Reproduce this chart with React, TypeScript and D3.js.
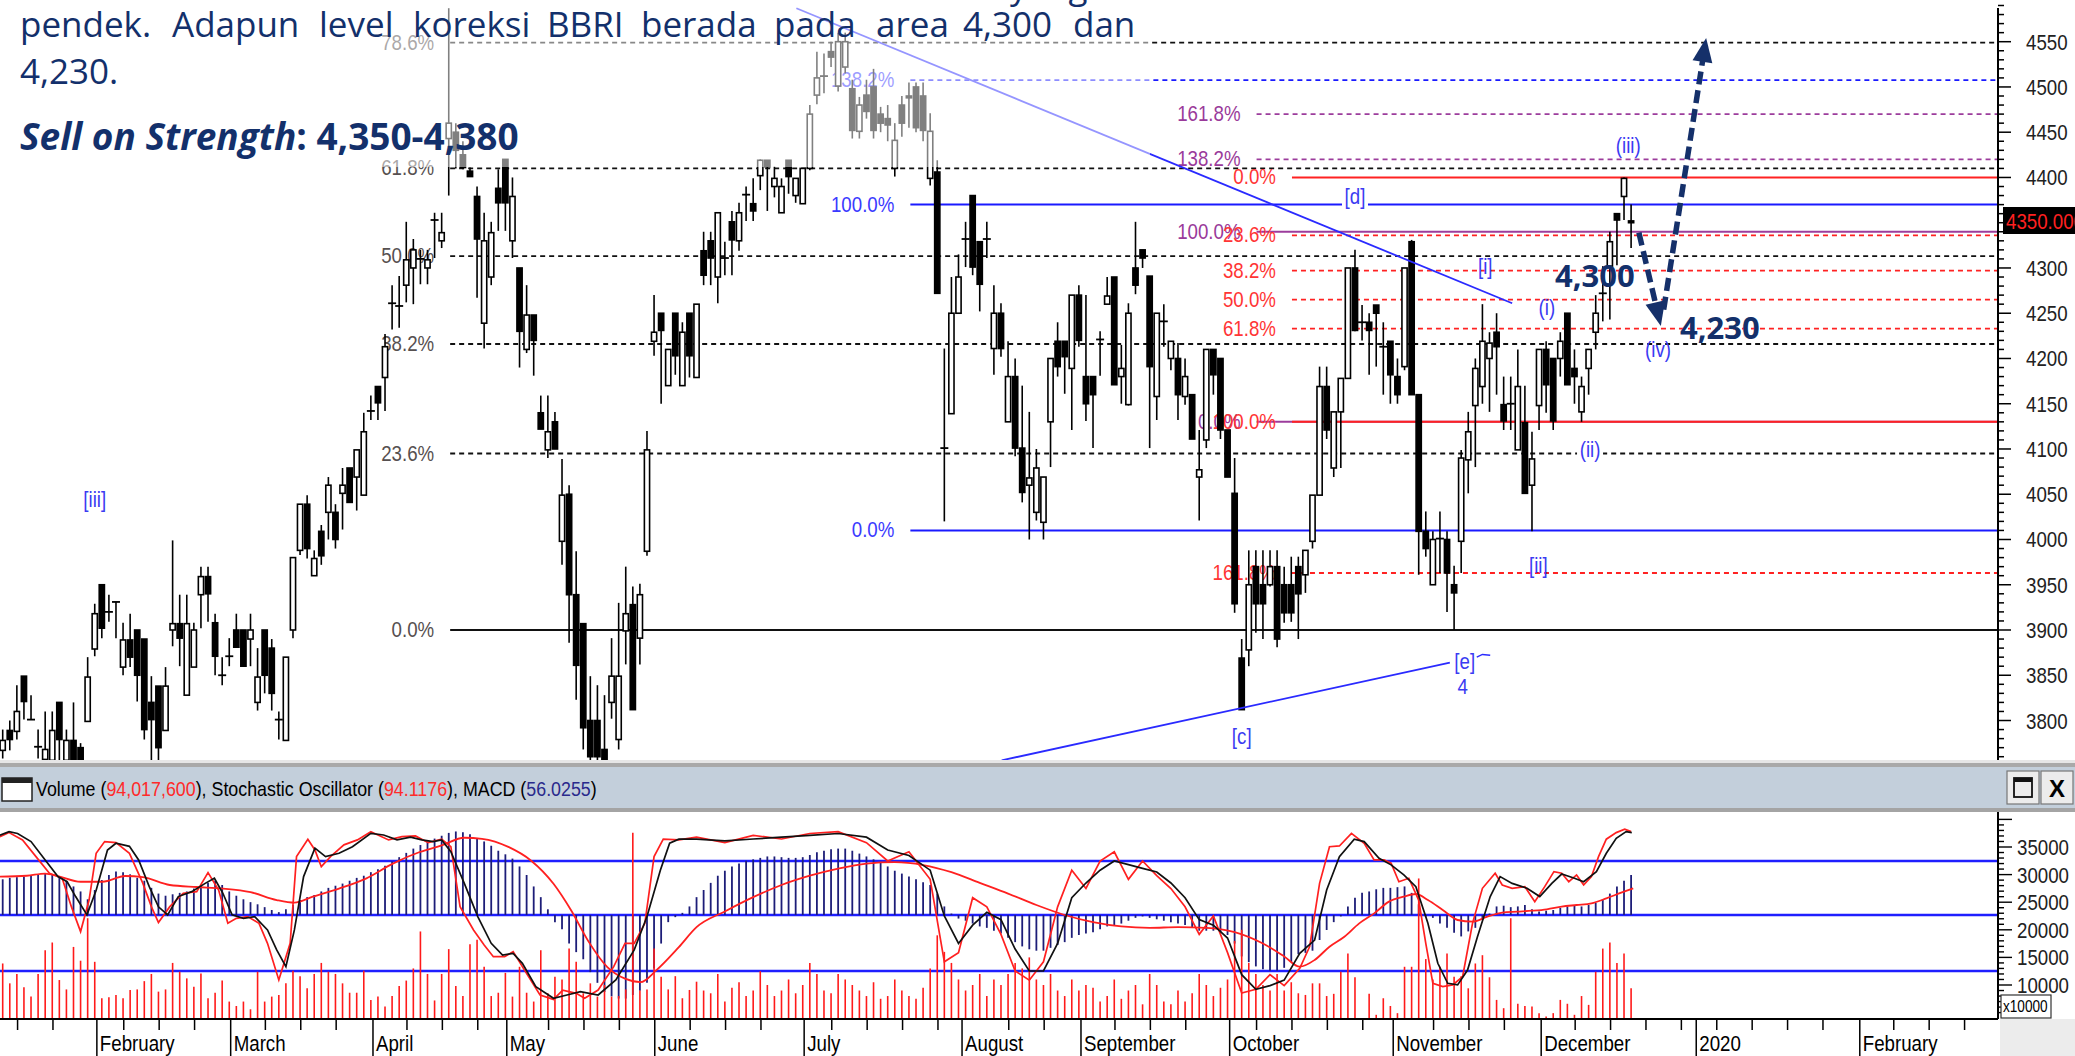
import React, { useEffect } from 'react';
import * as d3 from 'd3';

// ---------- DATA ----------
// daily candles [open, high, low, close], Jan 2019 .. Dec 2019
const ohlc: [number, number, number, number][] = [
  [3767,3790,3758,3778],[3789,3800,3767,3779],[3788,3839,3779,3810],[3849,3849,3801,3821],[3801,3828,3801,3801],
  [3771,3790,3758,3771],[3757,3810,3752,3768],[3756,3810,3750,3789],[3820,3820,3750,3779],[3756,3790,3750,3778],
  [3778,3820,3750,3756],[3770,3775,3740,3750],[3799,3870,3799,3848],[3879,3929,3871,3918],[3950,3950,3891,3902],
  [3920,3939,3909,3920],[3931,3931,3891,3931],[3859,3908,3850,3889],[3889,3918,3859,3870],[3900,3900,3821,3850],
  [3890,3890,3779,3790],[3820,3849,3750,3801],[3838,3838,3750,3770],[3789,3859,3789,3838],[3900,3999,3882,3907],
  [3907,3939,3860,3891],[3828,3939,3828,3907],[3859,3908,3859,3900],[3939,3970,3902,3959],[3959,3970,3909,3940],
  [3908,3918,3850,3871],[3850,3870,3839,3850],[3871,3891,3860,3871],[3900,3918,3881,3881],[3900,3900,3860,3860],
  [3890,3918,3860,3900],[3820,3880,3811,3848],[3900,3900,3830,3850],[3880,3890,3811,3830],[3801,3810,3779,3801],
  [3778,3870,3778,3870],[3900,3980,3891,3980],[3988,4039,3983,4039],[4039,4049,3979,3990],[3960,3988,3960,3979],
  [4009,4016,3972,3982],[4030,4069,4000,4060],[4030,4039,3990,4000],[4051,4079,4011,4060],[4079,4079,4041,4041],
  [4069,4099,4032,4099],[4049,4140,4049,4119],[4142,4159,4132,4142],[4169,4169,4132,4151],[4179,4227,4142,4213],
  [4261,4281,4232,4261],[4258,4291,4234,4258],[4281,4351,4262,4309],[4300,4332,4260,4320],[4310,4320,4282,4310],
  [4300,4320,4282,4309],[4353,4361,4311,4353],[4330,4361,4322,4339],[4443,4587,4380,4460],[4450,4460,4410,4430],
  [4425,4440,4409,4411],[4407,4411,4401,4401],[4379,4390,4267,4332],[4239,4361,4211,4330],[4290,4351,4281,4339],
  [4388,4409,4341,4372],[4420,4420,4341,4372],[4330,4400,4311,4379],[4300,4300,4190,4230],[4210,4281,4206,4248],
  [4248,4248,4181,4220],[4140,4159,4122,4122],[4099,4159,4090,4119],[4130,4141,4100,4100],[3998,4089,3972,4049],
  [4050,4060,3886,3939],[3939,3987,3823,3861],[3907,3907,3768,3792],[3800,3849,3745,3760],[3800,3839,3745,3760],
  [3768,3828,3745,3756],[3820,3891,3802,3849],[3779,3930,3768,3849],[3899,3970,3862,3918],[3928,3948,3812,3812],
  [3891,3951,3862,3939],[3987,4120,3982,4099],[4219,4270,4203,4229],[4250,4250,4150,4231],[4170,4210,4170,4210],
  [4250,4250,4182,4203],[4170,4240,4170,4229],[4250,4250,4179,4203],[4179,4260,4179,4260],[4319,4340,4281,4292],
  [4330,4340,4281,4311],[4290,4361,4261,4361],[4311,4329,4292,4311],[4351,4363,4292,4331],[4330,4372,4319,4361],
  [4381,4390,4352,4381],[4371,4399,4352,4363],[4402,4420,4386,4419],[4419,4419,4363,4412],[4390,4412,4378,4399],
  [4361,4399,4361,4390],[4419,4419,4382,4401],[4380,4399,4372,4399],[4371,4410,4371,4410],[4410,4480,4408,4470],
  [4491,4539,4481,4510],[4512,4537,4493,4512],[4539,4550,4522,4533],[4501,4560,4495,4550],[4522,4560,4515,4550],
  [4498,4508,4443,4452],[4451,4489,4443,4480],[4491,4508,4465,4473],[4500,4520,4443,4452],[4470,4478,4450,4460],
  [4465,4480,4440,4458],[4410,4460,4401,4441],[4480,4490,4445,4460],[4490,4505,4455,4488],[4500,4505,4450,4455],
  [4490,4505,4440,4452],[4399,4471,4391,4451],[4406,4419,4272,4272],[4101,4211,4020,4101],[4139,4290,4139,4250],
  [4250,4315,4250,4290],[4332,4351,4301,4332],[4380,4380,4292,4301],[4329,4329,4252,4282],[4332,4351,4311,4332],
  [4211,4281,4182,4250],[4250,4261,4202,4211],[4130,4219,4130,4180],[4180,4200,4092,4101],[4101,4170,4041,4052],
  [4060,4141,4000,4068],[4030,4100,4021,4079],[4019,4069,4000,4069],[4130,4200,4080,4200],[4219,4240,4180,4191],
  [4219,4219,4161,4202],[4189,4270,4121,4270],[4270,4281,4213,4220],[4180,4270,4131,4150],[4180,4180,4101,4160],
  [4221,4230,4181,4221],[4260,4290,4260,4269],[4290,4290,4171,4171],[4180,4215,4150,4189],[4149,4261,4148,4250],
  [4300,4351,4271,4281],[4320,4320,4300,4311],[4291,4291,4101,4191],[4158,4250,4132,4250],[4241,4260,4213,4241],
  [4200,4219,4187,4219],[4200,4217,4132,4160],[4158,4200,4149,4180],[4160,4160,4111,4111],[4069,4121,4021,4077],
  [4110,4210,4101,4210],[4210,4210,4160,4182],[4200,4200,4111,4121],[4121,4121,4069,4069],[4051,4090,3919,3929],
  [3869,3890,3812,3812],[3878,3988,3860,3950],[3970,3988,3897,3929],[3950,3988,3890,3929],[3950,3988,3948,3970],
  [3970,3988,3881,3890],[3950,3970,3908,3919],[3950,3981,3909,3919],[3970,3981,3890,3940],[3961,3988,3941,3988],
  [3998,4049,3990,4049],[4049,4191,4049,4169],[4169,4191,4111,4121],[4079,4141,4069,4141],[4141,4178,4079,4178],
  [4178,4300,4178,4300],[4300,4320,4230,4231],[4240,4259,4220,4240],[4240,4250,4182,4231],[4259,4259,4191,4250],
  [4213,4240,4160,4213],[4219,4219,4150,4182],[4180,4200,4150,4160],[4191,4300,4187,4300],[4329,4331,4160,4160],
  [4160,4160,3961,4009],[4009,4031,3981,3990],[3950,4009,3950,4000],[4001,4031,3963,4001],[4000,4009,3920,3963],
  [3950,3971,3900,3941],[3998,4099,3963,4090],[4088,4141,4051,4119],[4148,4200,4080,4189],[4169,4260,4150,4219],
  [4200,4229,4141,4217],[4229,4250,4160,4213],[4149,4180,4121,4131],[4150,4180,4121,4150],[4099,4210,4099,4169],
  [4129,4170,4051,4051],[4060,4119,4009,4089],[4148,4210,4121,4210],[4210,4219,4140,4171],[4200,4200,4121,4131],
  [4200,4229,4180,4219],[4250,4250,4171,4171],[4189,4210,4150,4180],[4141,4180,4130,4169],[4189,4210,4160,4210],
  [4229,4270,4210,4250],[4272,4302,4241,4272],[4302,4340,4243,4329],[4360,4360,4303,4353],[4379,4400,4353,4399],
  [4352,4370,4322,4350],
];

// volume per bar, x10000
const volume: number[] = [
  13900,10300,12000,9600,7900,12000,16300,17700,10900,9200,
  16900,14400,22100,14200,7600,7800,8200,7600,9100,9200,
  10700,12000,8800,9200,14000,12400,11200,9700,12100,7600,
  8600,10800,7000,6200,7000,5600,12400,7000,7900,8200,
  10300,12600,11600,9400,12000,14000,12400,12000,10300,8600,
  8600,12600,7300,7900,6100,8000,9800,10800,13000,19700,
  12000,7200,12000,16500,9800,8000,17400,18200,13300,8000,
  8600,12200,7900,13300,8600,7000,16300,8500,11500,11000,
  16600,14200,8500,10300,7900,10000,7900,8000,9200,37600,
  9000,9200,16600,11500,9200,11600,7600,9100,10600,
  9000,8500,12000,7000,9500,10500,8000,9000,12500,10000,
  8000,9000,11000,8500,10000,14000,12000,9000,8500,12000,
  11000,10000,9000,8000,10500,7500,8000,11000,9000,8000,
  7500,9500,13000,19000,16000,14000,11000,9000,10000,12000,
  8000,11000,10000,12000,14000,13000,15000,11000,10000,12000,
  9000,8000,11000,9000,10000,9500,7000,8000,11000,7500,
  9000,10000,6500,12000,10000,7000,6500,9000,7000,8500,
  12000,10000,8000,9500,11000,18000,20000,14000,12000,10000,
  9000,12000,9000,10500,8500,
  8200,10300,10300,8000,8400,12400,15700,11400,4000,8400,
  4600,7600,6200,4900,13300,13300,29300,14700,11000,13300,
  15700,11500,11600,9400,13900,15400,11400,7300,5800,22100,
  6600,6200,6100,4900,4300,4900,7300,6600,4600,8000,
  6400,12400,16600,17700,14000,15700,9400,
];

// MACD drawn as histogram, per bar
const macdHist: number[] = [
  50,52,53,54,55,56,58,57,54,48, 40,33,22,35,49,56,61,60,57,52,
  48,38,30,27,29,31,33,37,41,45, 48,42,33,27,22,18,15,11,7,4,
  8,14,21,25,28,33,38,41,44,48, 52,55,60,64,69,75,81,87,93,98,
  103,107,111,115,117,116,113,108,103,97, 90,85,79,68,56,40,25,8,-10,-20,
  -40,-52,-62,-80,-95,-108,-114,-117,-117,-112, -106,-95,-75,-40,-10,-3,3,12,25,
  35,45,55,62,68,72,76,78,80,82, 82,81,80,80,81,84,88,90,92,93,
  93,90,86,82,78,73,68,62,58,54, 50,46,42,30,12,2,-5,-8,-12,-16,
  -18,-22,-26,-32,-38,-44,-48,-50,-50,-46, -42,-38,-32,-28,-26,-24,-20,-16,-14,-12,
  -8,-4,-2,-4,-6,-8,-10,-12,-14,-18, -22,-22,-22,-24,-28,-40,-58,-66,-72,-76,
  -78,-78,-74,-66,
  -55,-53,-50,-35,-21,-10,-2,12,24,31, 33,36,38,38,39,40,31,15,-2,-4,
  -12,-18,-25,-30,-23,-18,-7,2,12,13, 11,12,14,8,5,6,7,10,12,13,
  12,14,17,22,30,40,48,56,
];

// MACD signal line [bar, value]
const macdSignal: [number, number][] = [
  [-0.4,53.7],[3.4,55],[6,58],[7.8,54.6],[11,46.6],[14.1,46.6],[17.3,54.6],[19.8,53],[23.6,42],[27.4,39.2],
  [31.1,37],[35,32],[38.7,21],[41.2,17.3],[43.8,25.7],[47.5,37],[51.3,51],[55.1,72],[58.9,88.2],[62,97.5],
  [65.2,108.2],[67.7,106.7],[71.5,95],[74.6,76.4],[77.8,43.7],[80.3,6.3],[82.8,-38],[85.4,-73],[87.9,-89.2],[90.1,-94],
  [92.3,-77.6],[95.5,-45],[98,-17],[102,5],[106,25],[110,42],[114,55],[118,65],[122,72],[126,74],
  [130,70],[134,60],[138,45],[142,30],[146,14],[150,0],[154,-10],[158,-16],[162,-18],[166,-17],
  [170,-18],[174,-24],[178,-40],[181,-58],[183.2,-72.4],[185.3,-63],[187.4,-44.4],[189.5,-30.4],[191.6,-11.7],[193.7,2.3],
  [195.8,18.7],[197.9,25.7],[199.6,29.4],[201.3,21],[203.4,7],[205.5,-7],[207.6,-9.4],[209.7,-2.3],[211.8,3.3],[213.9,4.7],
  [216,6],[218.1,8],[220.2,11.7],[222.3,14],[224.4,16.3],[226.5,23.3],[228.6,31.3],[230.3,37.4],
];

// Stochastic %K (red) and %D (black) [bar, value]
const stochK: [number, number][] = [
  [-0.4,93.3],[0.9,95.5],[2.8,91.5],[4.7,82.4],[6.6,73.3],[8.4,70.6],[9.7,55.1],[11,41.5],[12.2,58.7],[13.2,84.2],
  [14.4,90.6],[16,90],[17.9,84.2],[19.8,67.8],[21,55.1],[22,46.4],[23.6,55.1],[25.5,62.4],[27.4,63.3],[29,73.7],
  [30.5,64.2],[31.8,46],[33,48.7],[34.6,49.7],[36.2,46],[37.4,35.1],[39,15.1],[40.6,35.1],[41.5,82.4],[43.1,91.9],
  [44.1,86],[45,76.9],[46.3,82.4],[48.2,88.8],[50.1,91.5],[52,96],[54.5,91.5],[56.4,93.3],[58.3,93.7],[60.1,90],
  [62,91.9],[63.3,87.8],[64.6,55.1],[66.5,42.4],[68,34.2],[69.3,27.8],[70.9,27.8],[72.1,30.6],[73.7,20.5],[75.9,6.9],
  [77.8,4.5],[79.1,9.6],[81,7.8],[82.2,5.1],[84.1,9.6],[86.3,22.4],[87.9,35.1],[89.2,35.1],[90.7,46],[92,82.4],
  [93.3,91.9],[95.5,91.5],[98,93],[102,90],[106,94],[110,92],[114,95],[118,96],[122,90],[125,80],
  [128,85],[131,70],[133,25],[135,30],[137,60],[139,55],[141,40],[143,20],[145,15],[147,25],
  [149,55],[151,75],[153,65],[155,80],[157,85],[159,70],[161,80],[163,72],[165,65],[167,55],
  [169,40],[171,50],[173,30],[175,8],[177,10],[179,18],[181,12],[183.2,21.5],[184.6,33.3],[186,67.8],
  [187.4,87.8],[188.8,88.2],[190.5,95.1],[192.3,89.7],[193.7,80.6],[195.1,80.6],[196.1,78.8],[197.2,68.7],[198.6,70.6],[200,58.7],
  [201,35.1],[202,13.3],[203.4,11.5],[204.8,12.4],[206.2,16.9],[207.6,46],[209,65.1],[210.8,73.3],[211.8,66.9],[213.2,65.1],
  [215,66],[216.4,57.8],[217.8,66],[219.1,74.2],[220.2,73.3],[221.2,68.7],[222.3,72.4],[223.3,66.9],[224.4,71.5],[225.4,82.4],
  [226.5,91.9],[227.9,95.5],[229.1,97.3],[230,96],
];
const stochD: [number, number][] = [
  [-0.4,94],[0.9,96],[2.1,95],[4,90.6],[6,80.6],[7.8,71.5],[9.1,68.7],[10.3,60.6],[11.9,50.6],[13.2,64],
  [14.8,86],[16,89.7],[17.9,88],[19.2,80.6],[20.7,66],[22,55],[23.3,50.6],[24.8,60.6],[26.7,63.3],[28.6,67.8],
  [29.9,70.6],[31.1,62.4],[32.4,50.6],[34,48.7],[35.6,49.7],[37.4,42.4],[38.7,31.5],[40,22.4],[41.2,42.4],[42.5,71.5],
  [44.1,87],[45.6,82.4],[47.5,84.2],[49.4,87.8],[52,95.1],[53.8,94.2],[55.7,91.5],[57.6,93],[59.2,91.5],[60.8,90.6],
  [62,91.5],[63.3,85.1],[65.2,67.8],[67.1,49.7],[69,35.1],[70.6,28.7],[72.1,29.6],[73.4,24.2],[75.3,11.4],[77.8,5.1],
  [79.7,6.9],[81.6,8.7],[84.1,6.9],[86.6,15.1],[89.2,31.5],[91,49.7],[92.9,75.1],[94.2,89.7],[95.5,91.9],[98,91.9],
  [102,91],[106,92],[110,93],[114,94],[118,95],[122,93],[125,86],[128,83],[131,75],[133,50],
  [135,35],[137,45],[139,52],[141,48],[143,32],[145,20],[147,20],[149,35],[151,60],[153,68],
  [155,75],[157,80],[159,78],[161,76],[163,74],[165,68],[167,60],[169,48],[171,45],[173,38],
  [175,18],[177,10],[179,12],[181,15],[183.2,29.6],[185.3,36.9],[187,64.2],[188.8,82.4],[190.9,91.9],[192.3,90.6],
  [194.4,81.5],[196.1,77.9],[197.9,72.4],[199.6,66],[201.3,46],[202.7,24.2],[204.1,13.3],[205.5,12.4],[206.9,20.5],[208.3,38.7],
  [210.1,60.6],[211.5,71.5],[213.2,67.8],[215.3,65.1],[217.1,60.6],[218.8,67.8],[220.2,72.9],[222,70.6],[223.3,68.7],[225.1,74.2],
  [226.5,84.2],[227.9,92.4],[229.3,96],[230.1,95.5],
];

// month boundaries (bar position) and labels
const monthLabels = ['February','March','April','May','June','July','August','September','October','November','December','2020','February'];
const monthStarts = [13.3,32.2,52.3,71.2,92.1,113.2,135.5,152.3,173.3,196.4,217.3,239.2,262.3];

// Fibonacci tools [label, price]
const fibGray: [string, number][] = [['0.0%',3900],['23.6%',4095],['38.2%',4216],['50.0%',4313],['61.8%',4410],['78.6%',4549]];
const fibBlue: [string, number][] = [['0.0%',4010],['100.0%',4370],['138.2%',4507.5]];
const fibRed: [string, number][] = [['0.0%',4400],['23.6%',4336],['38.2%',4297],['50.0%',4265],['61.8%',4233],['100.0%',4130],['161.8%',3963]];
const fibPurple: [string, number][] = [['0.0%',4130],['100.0%',4340],['138.2%',4420],['161.8%',4470]];

// trendlines [bar, price]
const trendUpper: [number, number][] = [[112.1,4587],[213.2,4261]];
const trendLower: [number, number][] = [[141.1,3756],[204.4,3864]];
const trendTick: [number, number][] = [[208.2,3870],[209.0,3873],[210.1,3872]];

// Elliott wave labels [text, bar, price]
const waveLabels: [string, number, number][] = [
  ['[iii]',13,4045],['[c]',175,3783],['[d]',191,4380],['[e]',206.5,3866],['4',206.2,3838],
  ['[i]',209.4,4302],['(i)',218.1,4257],['[ii]',216.9,3972],['(ii)',224.2,4100],['(iii)',229.6,4436],['(iv)',233.8,4210],
];

// forecast arrows [bar, price] start -> tip
const arrowDown: [number, number][] = [[231.1,4339],[234.2,4236]];
const arrowUp: [number, number][] = [[234.6,4254],[240.6,4554]];

const priceTicks = d3.range(3800, 4551, 50);
const volTicks = [10000, 15000, 20000, 25000, 30000, 35000];
const lastPrice = '4350.000';

const textLine1 = ['pendek.','Adapun','level','koreksi','BBRI','berada','pada','area','4,300','dan'];

// ---------- HELPERS ----------
const SANS = '"Liberation Sans", Arial, sans-serif';
const OPEN = '"Open Sans", "Noto Sans", sans-serif';

function ST(props: { x: number; y: number; s?: number; sx?: number; anchor?: string; fill?: string; weight?: number; children: React.ReactNode }) {
  const { x, y, s = 22, sx = 0.85, anchor = 'start', fill = '#000', weight = 400, children } = props;
  return (
    <text transform={`translate(${x},${y}) scale(${sx},1)`} fontSize={s} textAnchor={anchor as any}
      fill={fill} fontWeight={weight} fontFamily={SANS}>{children}</text>
  );
}

export default function App() {
  useEffect(() => {
    document.body.style.margin = '0';
  }, []);

  const AX = 1998;
  const MAIN_B = 760;
  const P_TOP = 812, P_BOT = 1019;

  const xs = d3.scaleLinear().domain([0, 230]).range([2.7, 2.7 + 230 * 7.08]);
  const yP = d3.scaleLinear().domain([3900, 4550]).range([630, 41.7]);
  const yS = d3.scaleLinear().domain([20, 80]).range([971, 861]);
  const yM = d3.scaleLinear().domain([0, 100]).range([915, 843.6]);
  const yV = d3.scaleLinear().domain([10000, 35000]).range([985, 847]);

  const lineS = d3.line<[number, number]>().x(d => xs(d[0])).y(d => yS(d[1]));
  const lineM = d3.line<[number, number]>().x(d => xs(d[0])).y(d => yM(d[1])).curve(d3.curveMonotoneX);
  const lineP = d3.line<[number, number]>().x(d => xs(d[0])).y(d => yP(d[1]));

  const weekTicks = d3.range(2.1, 281, 5).filter(t => monthStarts.every(m => Math.abs(m - t) > 1.6));

  const fibLines = (fib: [string, number][], startBar: number, color: string, labelColor: string, solid: string[], key: string) => {
    const x0 = xs(startBar);
    return (
      <g key={key}>
        {fib.map(([lab, v]) => (
          <g key={lab}>
            <line x1={x0} x2={AX} y1={yP(v)} y2={yP(v)} stroke={color} strokeWidth={solid.includes(lab) ? 2 : 1.8}
              strokeDasharray={solid.includes(lab) ? undefined : '5,4'} />
            <ST x={x0 - 16} y={yP(v) + 7} anchor="end" fill={labelColor}>{lab}</ST>
          </g>
        ))}
      </g>
    );
  };

  const arrow = (pts: [number, number][], key: string) => {
    const [a, b] = pts;
    const x1 = xs(a[0]), y1 = yP(a[1]), x2 = xs(b[0]), y2 = yP(b[1]);
    const dx = x2 - x1, dy = y2 - y1, len = Math.hypot(dx, dy);
    const ux = dx / len, uy = dy / len;
    const hl = 24, hw = 10;
    const bx = x2 - ux * hl, by = y2 - uy * hl;
    const head = `${x2},${y2} ${bx - uy * hw},${by + ux * hw} ${bx + uy * hw},${by - ux * hw}`;
    return (
      <g key={key}>
        <line x1={x1} y1={y1} x2={bx + ux * 2} y2={by + uy * 2} stroke="#15306a" strokeWidth={5.5} strokeDasharray="13,6" />
        <polygon points={head} fill="#15306a" />
      </g>
    );
  };

  const navy = '#13306b';

  return (
    <svg width={2075} height={1056} style={{ position: 'absolute', left: 0, top: 0, background: '#fff' }}>
      <defs>
        <clipPath id="mainClip"><rect x={0} y={0} width={AX} height={MAIN_B} /></clipPath>
        <clipPath id="panelClip"><rect x={0} y={P_TOP} width={AX} height={P_BOT - P_TOP} /></clipPath>
      </defs>
      <rect x={0} y={0} width={2075} height={1056} fill="#fff" />

      {/* ===== MAIN PRICE PANEL ===== */}
      <g clipPath="url(#mainClip)">
        {fibLines(fibGray, 63.2, '#111', '#565050', ['0.0%'], 'fg')}
        {fibLines(fibBlue, 128.2, '#1a1aff', '#3a3aff', ['0.0%', '100.0%'], 'fb')}
        {fibLines(fibPurple, 177.1, '#9c3c9c', '#9a3a9a', ['0.0%', '100.0%'], 'fp')}
        {fibLines(fibRed, 182.1, '#ff2222', '#ff3535', ['0.0%', '100.0%'], 'fr')}

        {/* candles */}
        {ohlc.map(([o, h, l, c], i) => {
          const x = xs(i);
          const top = yP(Math.max(o, c)), bot = yP(Math.min(o, c));
          const doji = Math.abs(o - c) < 1;
          return (
            <g key={i}>
              <line x1={x} x2={x} y1={yP(h)} y2={yP(l)} stroke="#000" strokeWidth={1.6} />
              {doji
                ? <line x1={x - 4} x2={x + 4} y1={top} y2={top} stroke="#000" strokeWidth={1.8} />
                : <rect x={x - 2.6} y={top} width={5.2} height={Math.max(bot - top, 1)} fill={c >= o ? '#fff' : '#000'} stroke="#000" strokeWidth={1.6} />}
            </g>
          );
        })}

        {/* trendlines */}
        <path d={lineP(trendUpper) || ''} stroke="#2a2aff" strokeWidth={1.8} fill="none" />
        <path d={lineP(trendLower) || ''} stroke="#2a2aff" strokeWidth={1.8} fill="none" />
        <path d={lineP(trendTick) || ''} stroke="#2a2aff" strokeWidth={1.5} fill="none" />

        {/* wave labels */}
        {waveLabels.map(([t, b, p]) => {
          const x = xs(b), y = yP(p);
          const bg = t === '[d]' || t === '(ii)';
          return (
            <g key={t + b}>
              {bg && <rect x={x - 13} y={y - 11} width={26} height={22} fill="#fff" />}
              <ST x={x} y={y + 8} s={22} anchor="middle" fill="#3b3bf2">{t}</ST>
            </g>
          );
        })}

        {/* translucent text box */}
        <rect x={0} y={0} width={1150} height={167} fill="#fff" opacity={0.5} />

        {/* arrows */}
        {arrow(arrowDown, 'ad')}
        {arrow(arrowUp, 'au')}
      </g>

      {/* overlay text */}
      <text x={1010} y={-1} fontSize={35} fontFamily={OPEN} fill={navy}>yang</text>
      {textLine1.map((w, i) => (
        <text key={w + i} x={[20, 172, 319, 413, 547, 641, 774, 876, 963, 1073][i]} y={37} fontSize={35} fontFamily={OPEN} fill={navy}>{w}</text>
      ))}
      <text x={20} y={84} fontSize={35} fontFamily={OPEN} fill={navy}>4,230.</text>
      <text x={20} y={150} fontSize={37} fontFamily={OPEN} fontWeight={700} fill={navy}>
        <tspan fontStyle="italic">Sell on Strength</tspan>: 4,350-4,380
      </text>
      <text x={1555} y={287} fontSize={31} fontFamily={OPEN} fontWeight={700} fill={navy}>4,300</text>
      <text x={1680} y={339} fontSize={31} fontFamily={OPEN} fontWeight={700} fill={navy}>4,230</text>

      {/* right price axis */}
      <line x1={AX} x2={AX} y1={8} y2={MAIN_B} stroke="#000" strokeWidth={2} />
      {d3.range(3760, 4591, 10).map(v => (
        <line key={v} x1={AX} x2={AX + (v % 50 === 0 ? 13 : 6)} y1={yP(v)} y2={yP(v)} stroke="#000" strokeWidth={1.5} />
      ))}
      {priceTicks.map(v => (
        <ST key={v} x={2026} y={yP(v) + 8} fill="#222">{v}</ST>
      ))}
      <rect x={2003} y={207} width={75} height={27} fill="#000" />
      <ST x={2006} y={229} fill="#ff2020">{lastPrice}</ST>

      {/* ===== SEPARATOR & HEADER ===== */}
      <rect x={0} y={760} width={2075} height={3} fill="#e6e6e6" />
      <rect x={0} y={763} width={2075} height={4} fill="#a9a9a9" />
      <rect x={0} y={767} width={2075} height={41} fill="#c3cfdb" />
      <rect x={0} y={808} width={2075} height={4} fill="#a4a4a4" />
      <rect x={2} y={778} width={30} height={23} fill="#fff" stroke="#222" strokeWidth={1.5} />
      <rect x={2} y={778} width={30} height={5} fill="#222" />
      <ST x={36} y={796} s={21}>
        <tspan>Volume (</tspan><tspan fill="#ff2a2a">94,017,600</tspan><tspan>), Stochastic Oscillator (</tspan>
        <tspan fill="#ff2a2a">94.1176</tspan><tspan>), MACD (</tspan><tspan fill="#2a2a8c">56.0255</tspan><tspan>)</tspan>
      </ST>
      {[2007, 2041].map((bx, i) => (
        <g key={bx}>
          <rect x={bx} y={771} width={32} height={33} fill="#ececec" stroke="#777" strokeWidth={1.2} />
          {i === 0
            ? <g><rect x={bx + 7} y={778} width={18} height={19} fill="none" stroke="#111" strokeWidth={1.8} /><rect x={bx + 7} y={778} width={18} height={4} fill="#111" /></g>
            : <ST x={bx + 16} y={797} s={24} sx={1} anchor="middle" weight={700}>X</ST>}
        </g>
      ))}

      {/* ===== INDICATOR PANEL ===== */}
      <g clipPath="url(#panelClip)">
        {[80, 50, 20].map(v => (
          <line key={v} x1={0} x2={AX} y1={v === 50 ? yM(0) : yS(v)} y2={v === 50 ? yM(0) : yS(v)} stroke="#1f1fff" strokeWidth={2.6} />
        ))}
        {macdHist.map((v, i) => (
          <line key={'m' + i} x1={xs(i)} x2={xs(i)} y1={yM(0)} y2={yM(v)} stroke="#1d1d78" strokeWidth={1.8} />
        ))}
        {volume.map((v, i) => (
          <line key={'v' + i} x1={xs(i)} x2={xs(i)} y1={P_BOT} y2={yV(v)} stroke="#ff1a1a" strokeWidth={1.6} />
        ))}
        <path d={lineM(macdSignal) || ''} stroke="#ff2020" strokeWidth={1.8} fill="none" />
        <path d={lineS(stochK) || ''} stroke="#ff2020" strokeWidth={1.7} fill="none" />
        <path d={lineS(stochD) || ''} stroke="#111" strokeWidth={1.7} fill="none" />
      </g>

      {/* panel right axis */}
      <line x1={AX} x2={AX} y1={P_TOP} y2={P_BOT} stroke="#000" strokeWidth={2} />
      {d3.range(5000, 40001, 1000).filter(v => yV(v) > P_TOP && yV(v) < P_BOT).map(v => (
        <line key={v} x1={AX} x2={AX + (v % 5000 === 0 ? 14 : 6)} y1={yV(v)} y2={yV(v)} stroke="#000" strokeWidth={1.4} />
      ))}
      {volTicks.map(v => (
        <ST key={v} x={2017} y={yV(v) + 8} fill="#222">{v}</ST>
      ))}
      <rect x={2000} y={1019} width={75} height={37} fill="#ececec" />
      <rect x={2001} y={995} width={50} height={23} fill="#fff" stroke="#333" strokeWidth={1.2} />
      <ST x={2003} y={1012} s={16}>x10000</ST>

      {/* bottom time axis */}
      <line x1={0} x2={AX} y1={P_BOT} y2={P_BOT} stroke="#000" strokeWidth={2} />
      {weekTicks.map(t => (
        <line key={'w' + t} x1={xs(t)} x2={xs(t)} y1={P_BOT} y2={1030} stroke="#000" strokeWidth={1.5} />
      ))}
      {monthStarts.map((m, i) => (
        <g key={'mo' + i}>
          <line x1={xs(m)} x2={xs(m)} y1={P_BOT} y2={1056} stroke="#000" strokeWidth={1.5} />
          <ST x={xs(m) + 3} y={1051}>{monthLabels[i]}</ST>
        </g>
      ))}
    </svg>
  );
}
